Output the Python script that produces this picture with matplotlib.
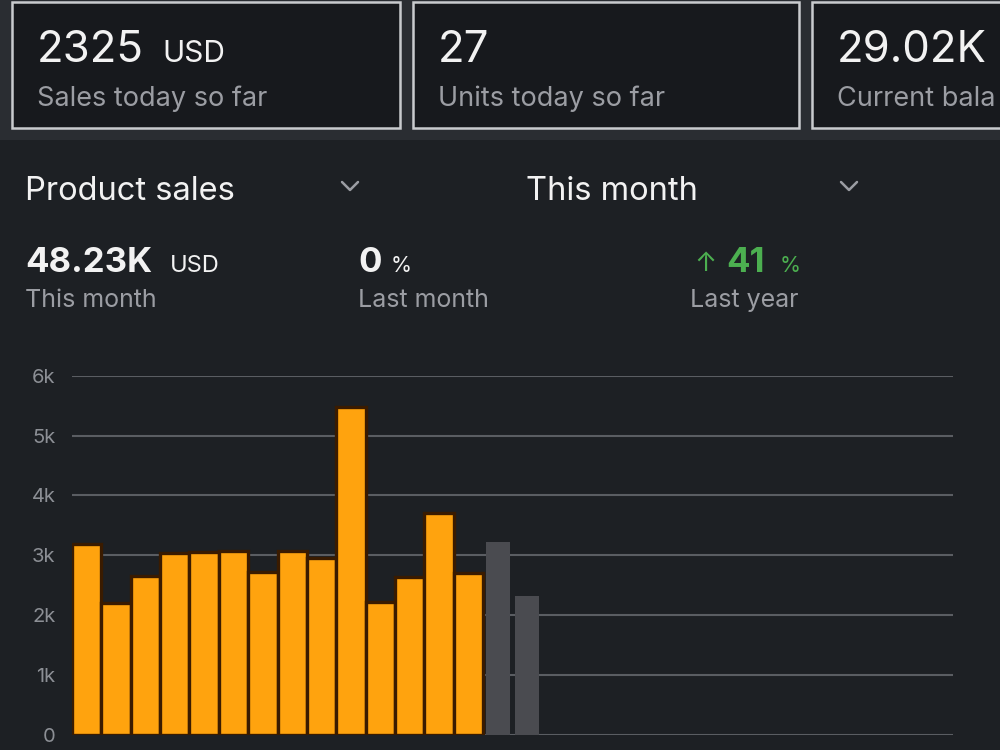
import matplotlib
matplotlib.use("Agg")
import matplotlib.pyplot as plt
from matplotlib.patches import Rectangle
from matplotlib.lines import Line2D

plt.rcParams['font.family'] = ['Inter', 'DejaVu Sans']

# daily product sales this month (USD)
days = list(range(1, 31))
sales_done = [3190, 2200, 2650, 3040, 3050, 3080, 2730, 3070, 2950, 5470,
              2220, 2640, 3710, 2710]
sales_pending = [3230, 2320]
y_ticks = [0, 1000, 2000, 3000, 4000, 5000, 6000]
y_labels = ['0', '1k', '2k', '3k', '4k', '5k', '6k']

# third card is cut by the right edge of the screenshot
cards = [("2325", "USD", "Sales today so far"),
         ("27", "", "Units today so far"),
         ("29.02K", "", "Current bala")]

W, H = 1000, 750
BG = '#1d2024'
TOP_BG = '#2a2d32'
CARD = '#17191d'
WHITE = '#f2f2f2'
GREY_TXT = '#9b9da3'
ORANGE = '#ffa30e'
PENDING = '#4a4b50'
GREEN = '#4caf50'

fig = plt.figure(figsize=(10, 7.5), dpi=100)
fig.patch.set_facecolor(BG)


def fx(x):
    return x / W


def fy(y):
    return 1 - y / H


def txt(x, y, s, size, color=WHITE, weight='normal'):
    fig.text(fx(x), fy(y), s, fontsize=size, color=color, weight=weight,
             ha='left', va='baseline')


# top band with the three cards
fig.add_artist(Rectangle((0, fy(140)), 1, 140 / H, transform=fig.transFigure,
                         facecolor=TOP_BG, edgecolor='none', zorder=0))
card_x = [12, 413, 812]
card_w = [388, 386, 300]
unit_x = [162, 0, 0]
for (big, unit, label), x0, w, ux in zip(cards, card_x, card_w, unit_x):
    fig.add_artist(Rectangle((fx(x0), fy(128)), w / W, 126 / H,
                             transform=fig.transFigure, facecolor=CARD,
                             edgecolor='#c9cbce', linewidth=1.8, zorder=1))
    txt(x0 + 25, 62, big, 31.5)
    if unit:
        txt(ux, 62, unit, 21.5)
    txt(x0 + 25, 106, label, 19.5, GREY_TXT)

# section header
txt(25, 200, "Product sales", 23.5)
txt(526, 200, "This month", 23.5)
for cx in [350, 849]:
    fig.add_artist(Line2D([fx(cx - 8), fx(cx), fx(cx + 8)],
                          [fy(182), fy(190), fy(182)],
                          transform=fig.transFigure, color=GREY_TXT,
                          linewidth=1.8, solid_capstyle='round'))

# summary figures
txt(25, 272, "48.23K", 25, weight='bold')
txt(170, 272, "USD", 17)
txt(25, 307, "This month", 18, GREY_TXT)
txt(358, 272, "0", 25, weight='bold')
txt(391, 272, "%", 15.5)
txt(358, 307, "Last month", 18, GREY_TXT)
txt(694, 271, "\u2191", 19, GREEN)
txt(726, 272, "41", 25, GREEN, weight='bold')
txt(780, 272, "%", 15.5, GREEN)
txt(690, 307, "Last year", 18, GREY_TXT)

# bar chart
ax = fig.add_axes([fx(72), fy(735), (953 - 72) / W, (735 - 375.7) / H])
ax.set_facecolor('none')
n_done = len(sales_done)
ax.bar(days[:n_done], sales_done, width=1.0, color=ORANGE,
       edgecolor='#3a1b00', linewidth=2.4, zorder=3)
ax.bar(days[n_done:n_done + len(sales_pending)], sales_pending, width=0.82,
       color=PENDING, edgecolor='none', zorder=3)

ax.set_xlim(days[0] - 0.5, days[-1] + 0.5)
ax.set_ylim(0, 6000)
ax.set_yticks(y_ticks)
ax.set_yticklabels(y_labels)
ax.set_xticks([])
ax.tick_params(axis='y', length=0, pad=12, labelsize=14.5, labelcolor='#8c8f95')
ax.grid(axis='y', color='#5a5d62', linewidth=1.5, zorder=0)
ax.set_axisbelow(True)
for s in ax.spines.values():
    s.set_visible(False)

fig.savefig("out.png", dpi=100, facecolor=fig.get_facecolor())
